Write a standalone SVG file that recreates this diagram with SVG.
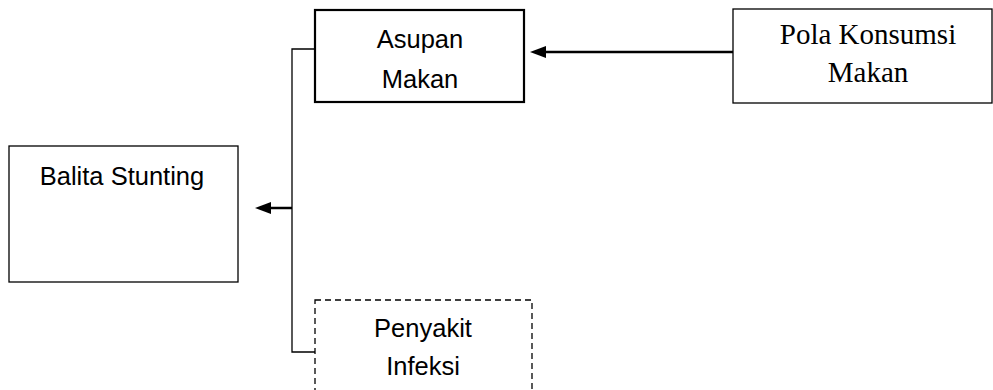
<svg xmlns="http://www.w3.org/2000/svg" width="993" height="390" viewBox="0 0 993 390">
<style>
.box{fill:#fff;stroke:#000;stroke-width:1.3}
.s{font-family:"Liberation Sans",Arial,sans-serif;font-size:25.5px;text-anchor:middle;fill:#000}
.r{font-family:"Liberation Serif","Times New Roman",serif;font-size:29px;text-anchor:middle;fill:#000}
.c{fill:none;stroke:#000;stroke-width:1.3}
.a{stroke:#000;stroke-width:2.5}
.h{fill:#000}
</style>
<g id="connectors">
<path class="c" d="M315,49 H292 V352 H315"/>
<line class="a" x1="292" y1="208" x2="268" y2="208"/>
<path class="h" d="M255,208 l16,-6 v12 Z"/>
<line class="a" x1="733" y1="52" x2="543" y2="52"/>
<path class="h" d="M530,52 l16,-6 v12 Z"/>
</g>
<g id="asupan">
<rect class="box" x="315" y="10" width="209" height="92" style="stroke-width:2.2"/>
<text class="s" x="420" y="48">Asupan</text>
<text class="s" x="420" y="88">Makan</text>
</g>
<g id="pola">
<rect class="box" x="733" y="9" width="259" height="94"/>
<text class="r" x="868" y="44">Pola Konsumsi</text>
<text class="r" x="868" y="82">Makan</text>
</g>
<g id="balita">
<rect class="box" x="9" y="146" width="229" height="136"/>
<text class="s" x="122" y="185">Balita Stunting</text>
</g>
<g id="penyakit">
<rect class="box" x="315" y="300" width="217" height="100" stroke-dasharray="6,4"/>
<text class="s" x="423" y="337">Penyakit</text>
<text class="s" x="423" y="375">Infeksi</text>
</g>
</svg>
